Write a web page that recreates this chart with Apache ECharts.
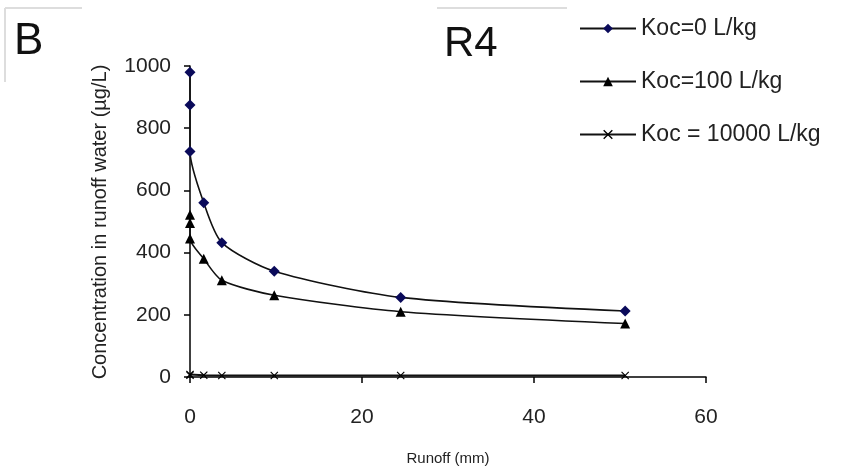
<!DOCTYPE html>
<html>
<head>
<meta charset="utf-8">
<script src="https://cdn.jsdelivr.net/npm/echarts@6/dist/echarts.min.js"></script>
<style>
html,body{margin:0;padding:0;background:#fff;}
#chart{width:843px;height:471px;}
</style>
</head>
<body>
<div id="chart"></div>
<script>
var runoffKoc0 = [0, 0, 0, 1.6, 3.7, 9.8, 24.5, 50.6];
var concKoc0 = [980, 875, 725, 560, 432, 340, 256, 212];
var runoffKoc100 = [0, 0, 0, 1.6, 3.7, 9.8, 24.5, 50.6];
var concKoc100 = [522, 495, 445, 380, 311, 263, 210, 172];
var runoffKoc10000 = [0, 0, 1.6, 3.7, 9.8, 24.5, 50.6];
var concKoc10000 = [8, 6, 6, 5, 5, 5, 5];
var seriesNames = ['Koc=0 L/kg', 'Koc=100 L/kg', 'Koc = 10000 L/kg'];
var xTicks = [0, 20, 40, 60];
var yTicks = [0, 200, 400, 600, 800, 1000];

function pairs(xs, ys) { return xs.map(function (x, i) { return [x, ys[i]]; }); }

var crossPath = 'path://M0,1L1,0L5,4L9,0L10,1L6,5L10,9L9,10L5,6L1,10L0,9L4,5Z';
var FONT = 'Liberation Sans, Arial, sans-serif';

var chart = echarts.init(document.getElementById('chart'), null, {renderer: 'canvas'});
chart.setOption({
  animation: false,
  backgroundColor: '#fff',
  textStyle: {fontFamily: FONT},
  grid: {left: 190, right: 137, top: 66, bottom: 93, containLabel: false},
  legend: {
    orient: 'vertical', left: 574, top: 12, itemWidth: 56, itemHeight: 12, itemGap: 30,
    textStyle: {fontSize: 23, color: '#222', fontFamily: FONT},
    data: seriesNames
  },
  xAxis: {
    type: 'value', min: xTicks[0], max: xTicks[xTicks.length - 1], interval: 20,
    name: 'Runoff (mm)', nameLocation: 'middle', nameGap: 74,
    nameTextStyle: {fontSize: 15, color: '#222'},
    axisLine: {lineStyle: {color: '#000', width: 1.5}},
    axisTick: {show: true, inside: false, length: 6, lineStyle: {color: '#000', width: 1.5}},
    axisLabel: {fontSize: 21, color: '#222', margin: 30},
    splitLine: {show: false}
  },
  yAxis: {
    type: 'value', min: yTicks[0], max: yTicks[yTicks.length - 1], interval: 200,
    axisLine: {show: true, lineStyle: {color: '#000', width: 1.5}},
    axisTick: {show: true, inside: false, length: 6, lineStyle: {color: '#000', width: 1.5}},
    axisLabel: {fontSize: 21, color: '#222', margin: 19, formatter: function (v) { return String(v); }},
    splitLine: {show: false}
  },
  series: [
    {
      name: seriesNames[0], type: 'line', data: pairs(runoffKoc0, concKoc0),
      smooth: 0.25, symbol: 'diamond', symbolSize: 11,
      itemStyle: {color: '#0a0a5a'}, lineStyle: {color: '#111', width: 1.6}
    },
    {
      name: seriesNames[1], type: 'line', data: pairs(runoffKoc100, concKoc100),
      smooth: 0.25, symbol: 'triangle', symbolSize: 10,
      itemStyle: {color: '#000'}, lineStyle: {color: '#111', width: 1.6}
    },
    {
      name: seriesNames[2], type: 'line', data: pairs(runoffKoc10000, concKoc10000),
      smooth: false, symbol: crossPath, symbolSize: 8,
      itemStyle: {color: '#000'}, lineStyle: {color: '#111', width: 2}
    }
  ],
  graphic: [
    {type: 'line', shape: {x1: 5, y1: 8, x2: 82, y2: 8}, style: {stroke: '#ddd', lineWidth: 2}},
    {type: 'line', shape: {x1: 5, y1: 8, x2: 5, y2: 82}, style: {stroke: '#ddd', lineWidth: 2}},
    {type: 'line', shape: {x1: 437, y1: 8, x2: 567, y2: 8}, style: {stroke: '#ddd', lineWidth: 2}},
    {type: 'text', left: 14, top: 20, style: {text: 'B', fontSize: 44, fill: '#111', fontFamily: FONT}},
    {type: 'text', left: 444, top: 23, style: {text: 'R4', fontSize: 42, fill: '#111', fontFamily: FONT}},
    {type: 'text', x: 100, y: 222, rotation: Math.PI / 2,
     style: {text: 'Concentration in runoff water (µg/L)', fontSize: 20, fill: '#222', fontFamily: FONT,
             textAlign: 'center', textVerticalAlign: 'middle'}}
  ]
});
</script>
</body>
</html>
